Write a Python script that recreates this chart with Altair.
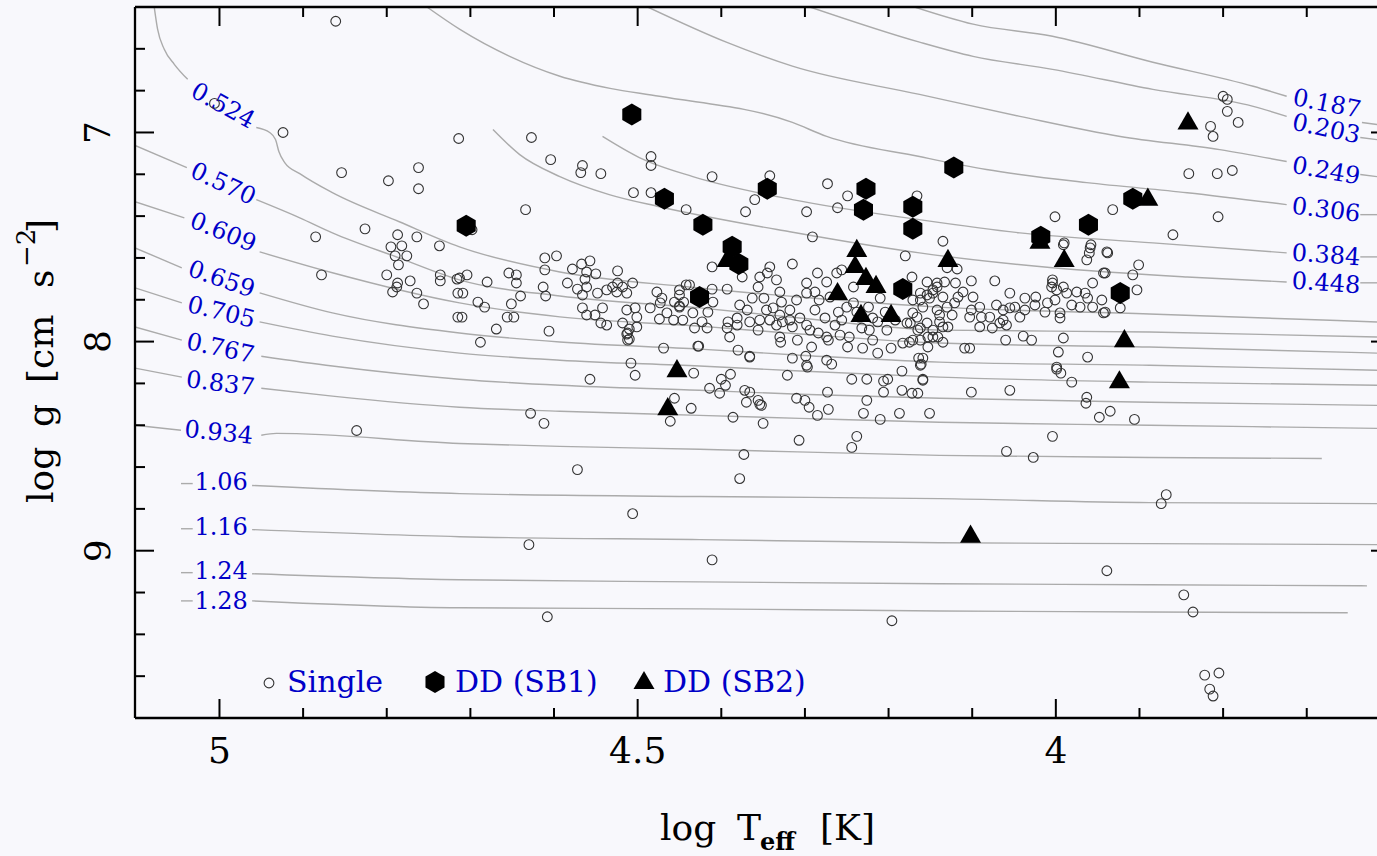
import altair as alt
import pandas as pd

FONT = "DejaVu Serif"
BLUE = "#0000c8"
GRAY = "#ababab"
BG = "#f8f8fc"

# ---------------- axes ----------------
T_DOMAIN = [3.616, 5.101]
G_DOMAIN = [6.4, 9.8]
X_MAJOR = [5.0, 4.5, 4.0]
X_MAJOR_LABELS = ["5", "4.5", "4"]
X_MINOR = [4.9, 4.8, 4.7, 4.6, 4.4, 4.3, 4.2, 4.1, 3.9, 3.8, 3.7]
Y_MAJOR = [7.0, 8.0, 9.0]
Y_MAJOR_LABELS = ["7", "8", "9"]
Y_MINOR = [6.6, 6.8, 7.2, 7.4, 7.6, 7.8, 8.2, 8.4, 8.6, 8.8, 9.2, 9.4, 9.6]

# ---------------- constant-mass tracks (None = gap under label) ----------------
T_0524 = [5.078, 5.074, 5.066, 5.054, 5.038, None, 4.956, 4.940, 4.933, 4.929, 4.922, 4.904, 4.865, 4.785, 4.713, 4.593, 4.438, 4.306, 4.139, 3.888, 3.616]
G_0524 = [6.400, 6.506, 6.602, 6.674, 6.746, None, 6.976, 7.000, 7.034, 7.091, 7.144, 7.197, 7.288, 7.427, 7.547, 7.667, 7.739, 7.787, 7.835, 7.868, 7.906]
T_0570 = [5.101, 5.039, None, 4.956, 4.904, 4.865, 4.785, 4.713, 4.593, 4.426, 4.306, 4.139, 3.888, 3.616]
G_0570 = [7.062, 7.168, None, 7.321, 7.408, 7.480, 7.600, 7.705, 7.782, 7.839, 7.887, 7.945, 7.954, 7.978]
T_0609 = [5.101, 5.042, None, 4.952, 4.865, 4.713, 4.593, 4.426, 4.306, 4.139, 3.888, 3.616]
G_0609 = [7.331, 7.408, None, 7.571, 7.671, 7.815, 7.882, 7.926, 7.964, 8.007, 8.026, 8.055]
T_0659 = [5.101, 5.045, None, 4.952, 4.865, 4.713, 4.593, 4.426, 4.306, 4.139, 3.888, 3.616]
G_0659 = [7.552, 7.647, None, 7.767, 7.863, 7.959, 8.002, 8.036, 8.065, 8.098, 8.113, 8.137]
T_0705 = [5.101, 5.045, None, 4.952, 4.865, 4.713, 4.593, 4.426, 4.306, 4.139, 3.888, 3.616]
G_0705 = [7.743, 7.815, None, 7.906, 7.974, 8.055, 8.089, 8.117, 8.141, 8.170, 8.194, 8.209]
T_0767 = [5.101, 5.045, None, 4.950, 4.865, 4.713, 4.593, 4.426, 4.306, 4.139, 3.888, 3.616]
G_0767 = [7.930, 7.993, None, 8.070, 8.117, 8.180, 8.209, 8.233, 8.252, 8.271, 8.290, 8.305]
T_0837 = [5.101, 5.045, None, 4.950, 4.865, 4.713, 4.593, 4.426, 4.306, 4.139, 3.888, 3.616]
G_0837 = [8.127, 8.170, None, 8.223, 8.261, 8.314, 8.333, 8.353, 8.367, 8.386, 8.400, 8.415]
T_0934 = [5.101, 5.046, None, 4.950, 4.932, 4.713, 4.593, 4.426, 4.139, 3.888, 3.682]
G_0934 = [8.400, 8.424, None, 8.448, 8.439, 8.487, 8.501, 8.515, 8.544, 8.554, 8.559]
T_1060 = [5.046, 5.032, None, 4.961, 4.713, 4.426, 4.139, 3.888, 3.616]
G_1060 = [8.679, 8.679, None, 8.688, 8.727, 8.741, 8.751, 8.770, 8.775]
T_1160 = [5.046, 5.032, None, 4.961, 4.713, 4.426, 4.139, 3.888, 3.616]
G_1160 = [8.895, 8.895, None, 8.899, 8.933, 8.947, 8.962, 8.966, 8.971]
T_1240 = [5.046, 5.032, None, 4.961, 4.713, 4.426, 4.139, 3.888, 3.628]
G_1240 = [9.105, 9.105, None, 9.110, 9.139, 9.149, 9.158, 9.163, 9.168]
T_1280 = [5.046, 5.032, None, 4.961, 4.713, 4.426, 4.139, 3.888, 3.651]
G_1280 = [9.240, 9.240, None, 9.240, 9.273, 9.278, 9.288, 9.293, 9.297]
T_0187 = [4.169, 4.099, 4.004, 3.884, 3.764, 3.724, None, 3.634, 3.616]
G_0187 = [6.400, 6.482, 6.540, 6.664, 6.779, 6.827, None, 6.952, 6.962]
T_0203 = [4.294, 4.163, 4.099, 4.004, 3.884, 3.764, 3.724, None, 3.636, 3.616]
G_0203 = [6.400, 6.568, 6.636, 6.698, 6.794, 6.875, 6.923, None, 7.024, 7.034]
T_0249 = [4.488, 4.394, 4.315, 4.163, 4.043, 3.923, 3.804, 3.724, None, 3.636, 3.616]
G_0249 = [6.400, 6.568, 6.683, 6.818, 6.923, 7.019, 7.082, 7.139, None, 7.201, 7.211]
T_0306 = [4.752, 4.713, 4.653, 4.593, 4.533, 4.474, 4.315, 4.274, 4.163, 4.083, 3.963, 3.843, 3.724, None, 3.636, 3.616]
G_0306 = [6.400, 6.506, 6.636, 6.731, 6.789, 6.827, 6.952, 7.019, 7.115, 7.177, 7.240, 7.288, 7.345, None, 7.393, 7.393]
T_0384 = [4.542, 4.498, 4.434, 4.315, 4.163, 4.043, 3.884, 3.724, None, 3.636, 3.616]
G_0384 = [7.019, 7.120, 7.211, 7.321, 7.417, 7.480, 7.528, 7.576, None, 7.595, 7.595]
T_0448 = [4.673, 4.641, 4.593, 4.534, 4.474, 4.318, 4.163, 4.004, 3.843, 3.724, None, 3.636, 3.616]
G_0448 = [6.986, 7.106, 7.211, 7.297, 7.355, 7.475, 7.576, 7.647, 7.691, 7.715, None, 7.719, 7.719]

# ---------------- track labels ----------------
MASS_TEXT = ["0.524", "0.570", "0.609", "0.659", "0.705", "0.767", "0.837", "0.934", "1.06", "1.16", "1.24", "1.28",
             "0.187", "0.203", "0.249", "0.306", "0.384", "0.448"]
MASS_T = [4.996, 4.996, 4.996, 4.998, 4.998, 4.999, 4.999, 5.001, 4.998, 4.998, 4.998, 4.998,
          3.676, 3.677, 3.677, 3.677, 3.677, 3.677]
MASS_G = [6.875, 7.249, 7.480, 7.705, 7.863, 8.036, 8.204, 8.439, 8.674, 8.890, 9.101, 9.245,
          6.866, 6.986, 7.187, 7.374, 7.590, 7.724]
MASS_ANGLE = [29, 25, 22, 19, 14, 12, 7, 6, 0, 0, 0, 0, 11, 12, 10, 7, 4, 4]

# ---------------- stars ----------------
SINGLE = [
    (4.861, 6.468), (5.006, 6.861), (4.924, 7.000), (4.854, 7.192), (4.798, 7.231), (4.762, 7.168), (4.762, 7.269),
    (4.714, 7.029), (4.885, 7.499), (4.826, 7.461), (4.878, 7.681), (4.787, 7.489), (4.795, 7.547), (4.782, 7.542),
    (4.790, 7.590), (4.776, 7.590), (4.786, 7.633), (4.764, 7.499), (4.737, 7.542), (4.800, 7.681), (4.787, 7.720),
    (4.788, 7.739), (4.793, 7.763), (4.772, 7.710), (4.764, 7.768), (4.756, 7.820), (4.736, 7.681), (4.736, 7.710),
    (4.716, 7.701), (4.715, 7.768), (4.715, 7.883), (4.836, 8.425),
    (4.627, 7.024), (4.604, 7.130), (4.566, 7.158), (4.568, 7.192), (4.544, 7.197), (4.484, 7.115), (4.484, 7.158),
    (4.634, 7.369), (4.505, 7.288), (4.484, 7.288), (4.411, 7.211), (4.442, 7.369), (4.342, 7.207), (4.360, 7.321),
    (4.371, 7.379), (4.273, 7.245), (4.249, 7.303), (4.261, 7.360), (4.298, 7.379), (4.291, 7.499), (4.166, 7.303),
    (4.698, 7.465),
    (4.713, 7.696), (4.704, 7.681), (4.680, 7.715), (4.709, 7.768), (4.691, 7.811), (4.683, 7.835), (4.710, 7.883),
    (4.669, 7.940), (4.688, 8.003), (4.654, 7.672), (4.645, 7.681), (4.645, 7.720), (4.640, 7.782), (4.651, 7.820),
    (4.656, 7.883), (4.648, 7.883), (4.611, 7.600), (4.597, 7.590), (4.611, 7.657), (4.613, 7.739), (4.610, 7.782),
    (4.606, 7.950), (4.584, 7.720), (4.578, 7.653), (4.567, 7.629), (4.557, 7.614), (4.561, 7.667), (4.550, 7.676),
    (4.563, 7.701), (4.572, 7.749), (4.561, 7.739), (4.566, 7.777), (4.548, 7.768), (4.566, 7.839), (4.561, 7.873),
    (4.551, 7.873), (4.542, 7.839), (4.544, 7.911), (4.537, 7.921), (4.524, 7.662), (4.537, 7.753), (4.530, 7.739),
    (4.524, 7.720), (4.525, 7.763), (4.518, 7.739), (4.513, 7.768), (4.506, 7.720), (4.513, 7.849), (4.503, 7.839),
    (4.501, 7.883), (4.518, 7.911), (4.501, 7.930), (4.510, 7.940), (4.513, 7.964), (4.510, 7.988), (4.469, 8.031),
    (4.508, 8.103), (4.485, 7.839), (4.477, 7.763), (4.471, 7.792), (4.473, 7.815), (4.465, 7.863), (4.474, 7.892),
    (4.457, 7.897), (4.446, 7.897), (4.456, 7.811), (4.450, 7.753), (4.450, 7.830), (4.445, 7.811), (4.442, 7.729),
    (4.512, 7.959), (4.512, 7.993), (4.428, 8.022), (4.503, 8.161), (4.557, 8.180), (4.628, 8.343), (4.612, 8.391),
    (4.572, 8.612), (4.456, 8.271), (4.461, 8.381), (4.436, 8.319), (4.433, 8.151), (4.414, 8.223), (4.402, 8.247),
    (4.400, 8.180), (4.395, 8.209), (4.389, 8.156), (4.386, 8.362), (4.372, 8.233), (4.366, 8.242), (4.370, 8.290),
    (4.356, 8.281), (4.352, 8.305), (4.350, 8.391), (4.380, 8.041), (4.366, 8.074), (4.373, 8.540), (4.378, 8.655),
    (4.321, 8.161), (4.315, 8.079), (4.299, 8.070), (4.297, 8.122), (4.292, 8.026), (4.309, 7.993), (4.310, 8.271),
    (4.300, 8.281), (4.295, 8.314), (4.285, 8.353), (4.273, 8.242), (4.272, 8.324), (4.274, 8.089), (4.268, 8.108),
    (4.307, 8.472), (4.238, 8.453), (4.244, 8.506), (4.249, 8.026), (4.231, 8.031), (4.213, 8.055), (4.197, 8.031),
    (4.219, 7.993), (4.244, 8.180), (4.226, 8.180), (4.206, 8.189), (4.201, 8.180), (4.206, 8.242), (4.226, 8.281),
    (4.230, 8.343), (4.210, 8.372), (4.187, 8.343), (4.184, 8.141), (4.184, 8.233), (4.172, 8.247), (4.165, 8.247),
    (4.159, 8.180), (4.151, 8.343), (4.164, 8.079), (4.161, 8.108), (4.183, 8.007), (4.175, 8.003), (4.274, 7.978),
    (4.329, 8.003),
    (4.411, 7.643), (4.438, 7.729), (4.450, 7.777), (4.450, 7.835), (4.434, 7.863), (4.423, 7.906), (4.411, 7.749),
    (4.410, 7.811), (4.416, 7.859), (4.393, 7.749), (4.392, 7.906), (4.393, 7.935), (4.390, 7.978), (4.427, 8.022),
    (4.432, 7.935), (4.417, 7.935), (4.381, 7.921), (4.381, 7.887), (4.366, 8.070), (4.375, 7.691), (4.354, 7.691),
    (4.345, 7.672), (4.342, 7.643), (4.334, 7.705), (4.315, 7.629), (4.356, 7.739), (4.349, 7.792), (4.363, 7.792),
    (4.369, 7.849), (4.354, 7.897), (4.356, 7.945), (4.342, 7.897), (4.330, 7.763), (4.328, 7.811), (4.338, 7.839),
    (4.330, 7.873), (4.318, 7.849), (4.310, 7.801), (4.298, 7.720), (4.298, 7.768), (4.285, 7.672), (4.288, 7.763),
    (4.274, 7.715), (4.262, 7.672), (4.256, 7.657), (4.306, 7.887), (4.315, 7.930), (4.298, 7.921), (4.327, 7.906),
    (4.330, 7.978), (4.298, 8.113), (4.284, 7.959), (4.272, 7.993), (4.256, 7.897), (4.247, 7.978), (4.235, 7.883),
    (4.232, 7.935), (4.223, 7.945), (4.213, 7.906), (4.202, 7.945), (4.171, 7.993), (4.165, 7.945), (4.174, 7.911),
    (4.171, 7.863), (4.162, 7.801), (4.154, 7.777), (4.147, 7.768), (4.142, 7.720), (4.172, 7.691), (4.180, 7.590),
    (4.153, 8.026), (4.147, 7.978), (4.210, 7.792), (4.242, 7.739), (4.250, 7.835), (4.242, 7.815), (4.260, 7.859),
    (4.238, 7.859), (4.346, 7.849), (4.334, 7.921), (4.318, 7.897), (4.288, 7.849), (4.276, 7.887), (4.264, 7.921),
    (4.283, 7.801), (4.270, 7.787), (4.224, 7.835), (4.219, 7.887), (4.204, 7.859), (4.192, 7.897), (4.366, 7.906),
    (4.378, 7.825), (4.294, 7.945), (4.258, 7.969),
    (4.135, 7.520), (4.130, 7.647), (4.118, 7.653), (4.154, 7.715), (4.142, 7.739), (4.133, 7.715), (4.120, 7.720),
    (4.101, 7.710), (4.073, 7.710), (4.055, 7.768), (4.111, 7.763), (4.117, 7.787), (4.099, 7.787), (4.091, 7.835),
    (4.101, 7.849), (4.103, 7.883), (4.089, 7.883), (4.079, 7.883), (4.071, 7.825), (4.063, 7.849), (4.055, 7.839),
    (4.049, 7.835), (4.037, 7.849), (4.043, 7.883), (4.063, 7.897), (4.067, 7.911), (4.076, 7.935), (4.091, 7.930),
    (4.059, 7.921), (4.037, 7.792), (4.024, 7.787), (4.025, 7.825), (4.013, 7.859), (4.010, 7.815), (4.004, 7.720),
    (4.005, 7.739), (4.001, 7.801), (3.995, 7.863), (3.995, 7.887), (3.991, 7.739), (3.987, 7.768), (3.981, 7.825),
    (3.971, 7.835), (3.975, 7.763), (3.965, 7.768), (3.962, 7.792), (3.956, 7.720), (3.956, 7.835), (3.945, 7.801),
    (3.941, 7.859), (3.941, 7.672), (3.963, 7.609), (3.959, 7.552), (3.960, 7.576), (3.938, 7.576), (3.908, 7.681),
    (3.901, 7.633), (3.903, 7.753), (3.923, 7.839), (3.991, 7.537), (4.060, 7.993), (4.039, 7.974), (4.029, 7.993),
    (3.991, 7.983), (3.997, 8.050), (3.962, 8.074), (4.109, 8.031), (4.103, 8.031), (4.135, 8.003), (4.162, 7.993),
    (4.162, 8.113), (3.999, 8.122), (4.171, 7.801), (4.162, 7.768), (4.159, 7.835), (4.151, 7.792), (4.147, 7.753),
    (4.142, 7.849), (4.139, 7.906), (4.135, 7.787), (4.130, 7.835), (4.124, 7.873), (4.121, 7.815), (4.178, 7.911),
    (4.166, 7.883), (4.162, 7.935), (4.154, 7.911), (4.147, 7.945), (4.153, 7.978), (4.141, 7.978), (4.135, 7.930),
    (4.129, 7.930), (4.139, 7.873),
    (3.800, 6.827), (3.795, 6.842), (3.795, 6.899), (3.782, 6.952), (3.815, 6.971), (3.812, 7.019), (3.841, 7.197),
    (3.807, 7.197), (3.789, 7.182), (3.806, 7.403), (3.860, 7.489), (3.932, 7.369), (4.001, 7.403), (3.990, 7.528),
    (3.958, 7.537), (3.939, 7.571), (3.943, 7.672), (3.943, 7.863), (4.004, 7.705), (3.999, 7.753), (3.999, 8.132),
    (3.994, 8.151), (3.981, 8.194), (4.159, 8.079), (4.159, 8.185), (4.101, 8.242), (4.055, 8.233), (3.963, 8.266),
    (3.964, 8.295), (3.948, 8.362), (3.935, 8.333), (3.906, 8.372), (4.004, 8.453), (4.059, 8.525), (4.027, 8.554),
    (3.868, 8.732), (3.874, 8.775), (3.939, 9.096), (3.847, 9.211), (3.836, 9.293), (3.822, 9.595), (3.805, 9.585),
    (3.816, 9.662), (3.812, 9.695),
    (4.354, 8.300), (4.506, 8.823), (4.630, 8.971), (4.411, 9.044), (4.608, 9.316), (4.196, 9.335),
]
DD_SB1 = [
    (4.507, 6.914), (4.468, 7.317), (4.422, 7.441), (4.387, 7.547), (4.379, 7.629), (4.345, 7.269), (4.227, 7.269),
    (4.230, 7.369), (4.171, 7.355), (4.171, 7.461), (4.426, 7.787), (4.183, 7.749), (4.705, 7.446), (4.122, 7.168),
    (4.018, 7.499), (3.961, 7.441), (3.908, 7.317), (3.923, 7.768),
]
DD_SB2 = [
    (4.238, 7.552), (4.240, 7.629), (4.227, 7.686), (4.215, 7.724), (4.261, 7.758), (4.233, 7.863), (4.197, 7.863),
    (4.393, 7.600), (4.453, 8.127), (4.464, 8.309), (4.129, 7.600), (3.990, 7.600), (4.019, 7.513), (3.890, 7.307),
    (3.842, 6.942), (3.918, 7.983), (3.924, 8.180), (4.102, 8.918),
]
LEGEND_TEXT = ["Single", "DD (SB1)", "DD (SB2)"]

HEX = "M0,-1L0.866,-0.5L0.866,0.5L0,1L-0.866,0.5L-0.866,-0.5Z"
TRI = "M0,-0.866L1,0.866L-1,0.866Z"

W, H = 1242, 711

xs = alt.Scale(domain=T_DOMAIN, reverse=True, nice=False, zero=False)
ys = alt.Scale(domain=G_DOMAIN, reverse=True, nice=False, zero=False)
X = alt.X("T:Q", scale=xs, axis=None)
Y = alt.Y("G:Q", scale=ys, axis=None)

# ---- build track table ----
TRACKS = [
    ("0.524", T_0524, G_0524), ("0.570", T_0570, G_0570), ("0.609", T_0609, G_0609), ("0.659", T_0659, G_0659),
    ("0.705", T_0705, G_0705), ("0.767", T_0767, G_0767), ("0.837", T_0837, G_0837), ("0.934", T_0934, G_0934),
    ("1.06", T_1060, G_1060), ("1.16", T_1160, G_1160), ("1.24", T_1240, G_1240), ("1.28", T_1280, G_1280),
    ("0.187", T_0187, G_0187), ("0.203", T_0203, G_0203), ("0.249", T_0249, G_0249), ("0.306", T_0306, G_0306),
    ("0.384", T_0384, G_0384), ("0.448", T_0448, G_0448),
]
rows = []
for name, ts, gs in TRACKS:
    seg = 0
    for k, (t, g) in enumerate(zip(ts, gs)):
        if t is None:
            seg += 1
            continue
        rows.append({"T": t, "G": g, "seg": f"{name}-{seg}", "i": k})
track_df = pd.DataFrame(rows)

tracks = alt.Chart(track_df).mark_line(color=GRAY, strokeWidth=1.4, interpolate="monotone", clip=True).encode(
    x=X, y=Y, detail="seg:N", order="i:Q")

mass_df = pd.DataFrame({"T": MASS_T, "G": MASS_G, "txt": MASS_TEXT, "ang": MASS_ANGLE})
mass_labels = alt.Chart(mass_df).mark_text(font=FONT, fontSize=24, color=BLUE, align="center", baseline="middle").encode(
    x=X, y=Y, text="txt:N", angle=alt.Angle("ang:Q", scale=None))

single_df = pd.DataFrame(SINGLE, columns=["T", "G"])
sb1_df = pd.DataFrame(DD_SB1, columns=["T", "G"])
sb2_df = pd.DataFrame(DD_SB2, columns=["T", "G"])

singles = alt.Chart(single_df).mark_point(shape="circle", filled=False, size=95, stroke="#333333",
                                          strokeWidth=1.1, opacity=1).encode(x=X, y=Y)
sb2 = alt.Chart(sb2_df).mark_point(shape=TRI, filled=True, size=441, fill="black", opacity=1).encode(x=X, y=Y)
sb1 = alt.Chart(sb1_df).mark_point(shape=HEX, filled=True, size=484, fill="black", opacity=1).encode(x=X, y=Y)

# ---- frame and ticks ----
ONE = alt.Data(values=[{"k": 1}])
frame_left = alt.Chart(ONE).mark_rule(color="black", strokeWidth=2.3).encode(
    x=alt.value(0), y=alt.value(0), y2=alt.value(H))
frame_bottom = alt.Chart(ONE).mark_rule(color="black", strokeWidth=2.3).encode(
    x=alt.value(0), x2=alt.value(W), y=alt.value(H))
frame_top = alt.Chart(ONE).mark_rule(color="black", strokeWidth=2.3).encode(
    x=alt.value(0), x2=alt.value(W), y=alt.value(0))

xmaj = pd.DataFrame({"T": X_MAJOR, "lab": X_MAJOR_LABELS})
xmin = pd.DataFrame({"T": X_MINOR})
ymaj = pd.DataFrame({"G": Y_MAJOR, "lab": Y_MAJOR_LABELS})
ymin = pd.DataFrame({"G": Y_MINOR})

def xticks(df, length):
    b = alt.Chart(df).mark_rule(color="black", strokeWidth=2).encode(x=X, y=alt.value(H), y2=alt.value(H - length))
    t = alt.Chart(df).mark_rule(color="black", strokeWidth=2).encode(x=X, y=alt.value(0), y2=alt.value(length))
    return b + t

def yticks(df, length):
    return alt.Chart(df).mark_rule(color="black", strokeWidth=2).encode(y=Y, x=alt.value(0), x2=alt.value(length))

right_ticks = alt.Chart(ymaj).mark_rule(color="black", strokeWidth=2).encode(y=Y, x=alt.value(W - 6), x2=alt.value(W))

x_labels = alt.Chart(xmaj).mark_text(font=FONT, fontSize=36, color="black", align="center",
                                     baseline="alphabetic").encode(x=X, y=alt.value(756), text="lab:N")
y_labels = alt.Chart(ymaj).mark_text(font=FONT, fontSize=36, color="black", align="center",
                                     baseline="alphabetic", angle=270).encode(y=Y, x=alt.value(-25), text="lab:N")

def txt(s, x, y, size, angle=0, color="black", weight="normal", align="left"):
    return alt.Chart(ONE).mark_text(text=s, font=FONT, fontSize=size, angle=angle, color=color,
                                    fontWeight=weight, align=align, baseline="alphabetic").encode(
        x=alt.value(x), y=alt.value(y))

# y title: log g [cm s^-2]
ytitle = (txt("log", -82, 496, 36, angle=270) + txt("g", -82, 420, 36, angle=270)
          + txt("[cm", -82, 376, 36, angle=270) + txt("s", -82, 281, 36, angle=270)
          + txt("\u22122", -100, 260, 26, angle=270) + txt("]", -82, 226, 36, angle=270))
# x title: log T_eff [K]
xtitle = (txt("log", 525, 833, 36) + txt("T", 602, 833, 36) + txt("eff", 625, 843, 24, weight="bold")
          + txt("[K]", 685, 833, 36))

# legend
leg_circle = alt.Chart(ONE).mark_point(shape="circle", filled=False, size=95, stroke="#333333",
                                       strokeWidth=1.1, opacity=1).encode(x=alt.value(134), y=alt.value(676))
leg_hex = alt.Chart(ONE).mark_point(shape=HEX, filled=True, size=484, fill="black", opacity=1).encode(
    x=alt.value(300), y=alt.value(675))
leg_tri = alt.Chart(ONE).mark_point(shape=TRI, filled=True, size=441, fill="black", opacity=1).encode(
    x=alt.value(509), y=alt.value(673))
leg_text = (txt(LEGEND_TEXT[0], 152, 685, 30, color=BLUE) + txt(LEGEND_TEXT[1], 320, 685, 30, color=BLUE)
            + txt(LEGEND_TEXT[2], 528, 685, 30, color=BLUE))

chart = alt.layer(
    tracks, mass_labels, singles, sb2, sb1,
    frame_left, frame_bottom, frame_top,
    xticks(xmaj, 19), xticks(xmin, 10), yticks(ymaj, 19), yticks(ymin, 10), right_ticks,
    x_labels, y_labels, ytitle, xtitle,
    leg_circle, leg_hex, leg_tri, leg_text,
).properties(
    width=W, height=H,
    padding={"left": 135, "top": 7, "right": 0, "bottom": 138},
    autosize=alt.AutoSizeParams(type="none"),
    background=BG,
).configure_view(stroke=None)

chart.save("out.html", embed_options={"renderer": "svg", "actions": False})
